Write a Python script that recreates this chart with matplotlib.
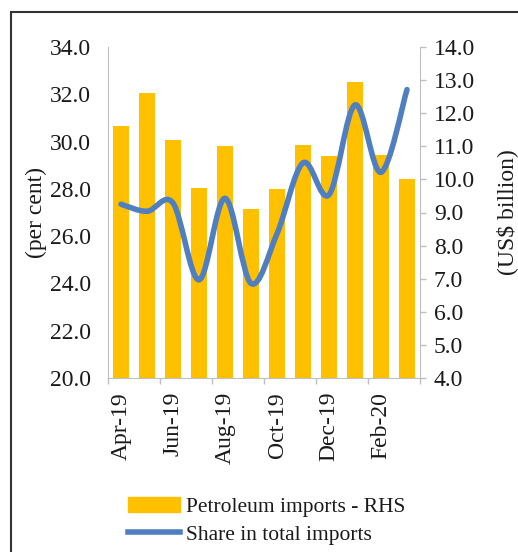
import numpy as np
import matplotlib
matplotlib.use('Agg')
import matplotlib.pyplot as plt
from matplotlib.path import Path
from matplotlib.patches import PathPatch, Patch, Rectangle
from matplotlib.lines import Line2D
from matplotlib.ticker import FormatStrFormatter, MultipleLocator

# データ
months = ['Apr-19', 'May-19', 'Jun-19', 'Jul-19', 'Aug-19', 'Sep-19',
          'Oct-19', 'Nov-19', 'Dec-19', 'Jan-20', 'Feb-20', 'Mar-20']
petroleum = [11.6, 12.6, 11.2, 9.75, 11.0, 9.1, 9.7, 11.05, 10.7, 12.95, 10.75, 10.0]  # US$ billion (RHS)
share = [27.35, 27.05, 27.4, 24.15, 27.6, 24.0, 26.1, 29.1, 27.75, 31.55, 28.7, 32.2]  # per cent (LHS)

plt.rcParams['font.family'] = ['Liberation Serif', 'DejaVu Serif']
grey = '#BFBFBF'
txt = '#1a1a1a'
fs = 17

fig = plt.figure(figsize=(5.18, 5.52), dpi=100)
ax1 = fig.add_axes([108 / 518, 1 - 378 / 552, 312 / 518, 331 / 552])
ax2 = ax1.twinx()

# 棒グラフ（右軸）
x = np.arange(len(months))
ax2.bar(x, petroleum, width=0.6, color='#FFC000', label='Petroleum imports - RHS')
ax2.set_ylim(4, 14)
ax2.yaxis.set_major_locator(MultipleLocator(1))
ax2.yaxis.set_major_formatter(FormatStrFormatter('%.1f'))

# 平滑化した折れ線（左軸）
pts = np.column_stack([x, share])
verts = [pts[0]]
codes = [Path.MOVETO]
n = len(pts)
for i in range(n - 1):
    p0 = pts[max(i - 1, 0)]
    p1 = pts[i]
    p2 = pts[i + 1]
    p3 = pts[min(i + 2, n - 1)]
    verts += [p1 + (p2 - p0) / 6, p2 - (p3 - p1) / 6, p2]
    codes += [Path.CURVE4] * 3
line_color = '#4F7FC0'
ax1.add_patch(PathPatch(Path(verts, codes), fill=False, edgecolor=line_color,
                        lw=4, capstyle='round', joinstyle='round'))
ax1.set_ylim(20, 34)
ax1.yaxis.set_major_locator(MultipleLocator(2))
ax1.yaxis.set_major_formatter(FormatStrFormatter('%.1f'))
ax1.set_xlim(-0.5, 11.5)

ax1.set_zorder(ax2.get_zorder() + 1)
ax1.patch.set_visible(False)

# x軸
ax1.set_xticks(x[::2])
ax1.set_xticklabels(months[::2], rotation=90)
ax1.set_xticks(np.arange(-0.5, 12, 2), minor=True)
ax1.tick_params(axis='x', which='major', length=0, pad=10, labelsize=fs, labelcolor=txt)
ax1.tick_params(axis='x', which='minor', length=4, width=1, color=grey)
ax1.tick_params(axis='y', length=0, pad=12, labelsize=fs, labelcolor=txt)
ax2.tick_params(axis='y', length=4, width=1, color=grey, pad=6, labelsize=fs, labelcolor=txt)

for s in ['top', 'right']:
    ax1.spines[s].set_visible(False)
for s in ['top', 'left', 'bottom']:
    ax2.spines[s].set_visible(False)
ax1.spines['left'].set_color(grey)
ax1.spines['bottom'].set_color(grey)
ax2.spines['right'].set_color(grey)

ax1.set_ylabel('(per cent)', fontsize=fs, color=txt)
ax1.yaxis.set_label_coords((47 - 108) / 312, 0.5)
ax2.set_ylabel('(US$ billion)', fontsize=fs, color=txt)
ax2.yaxis.set_label_coords((496 - 108) / 312, 0.5)

# 凡例
handles = [Patch(color='#FFC000'), Line2D([], [], color=line_color, lw=4)]
labels = ['Petroleum imports - RHS', 'Share in total imports']
fig.legend(handles, labels, loc='center', bbox_to_anchor=(267 / 518, 1 - 521 / 552),
           frameon=False, fontsize=15.5, handlelength=2.4, handletextpad=0.3,
           labelspacing=0.35, labelcolor=txt)

# 枠線
fig.add_artist(Rectangle((11 / 518, -0.1), 1.2, (1 - 12 / 552) + 0.1,
                         transform=fig.transFigure, fill=False, lw=1.5, edgecolor='#333333'))

fig.savefig('out.png', dpi=100)
